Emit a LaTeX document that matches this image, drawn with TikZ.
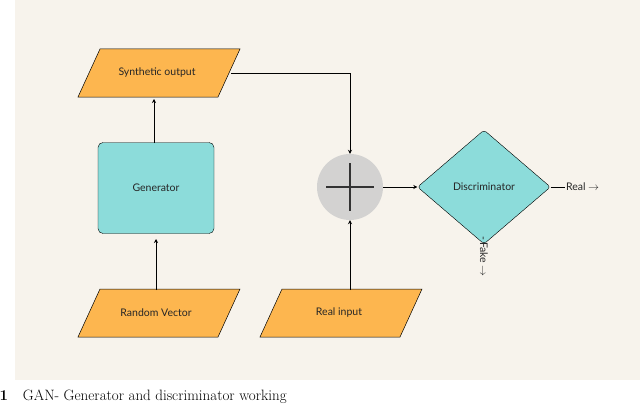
\documentclass[tikz,border=0pt]{standalone}
\usepackage{fontspec}
\newfontfamily\diag{Lato}
\usetikzlibrary{shapes.geometric,arrows.meta}
\definecolor{bg}{HTML}{F7F3EC}
\definecolor{orng}{HTML}{FDB64F}
\definecolor{teal}{HTML}{8CDCDA}
\definecolor{gry}{HTML}{D3D2D1}
\tikzset{
  lbl/.style={font=\diag\fontsize{10.5}{12}\selectfont, text=black!85},
  para/.style={fill=orng, draw=black, line width=0.5pt},
  conn/.style={line width=0.8pt, -{Stealth[length=4pt,width=4pt]}},
}
\begin{document}
\begin{tikzpicture}[x=1pt,y=-1pt]
\useasboundingbox (0,0) rectangle (640,404);
\fill[bg] (15,0) rectangle (640,380);
\newcommand{\paral}[2]{\filldraw[para] (#1-56,#2-24) -- (#1+84,#2-24) -- (#1+62,#2+24) -- (#1-78,#2+24) -- cycle;}
\paral{156}{73}
\paral{156}{313}
\paral{338}{313}
\node[lbl] (syn) at (157,73) {Synthetic output};
\node[lbl] (rv) at (156,313) {Random Vector};
\node[lbl] (ri) at (339,313) {Real input};
\node[lbl, draw=black, fill=teal, rounded corners=5pt, minimum width=116pt, minimum height=91pt] (gen) at (156,188) {Generator};
\node[circle, fill=gry, minimum size=66pt, inner sep=0] (plus) at (350,187) {};
\draw[line width=2.5pt, black!80] (plus.center) ++(-24,0) -- ++(48,0) (plus.center) ++(0,-24) -- ++(0,48);
\node[lbl, diamond, draw=black, fill=teal, rounded corners=3pt, minimum width=133pt, minimum height=114pt, inner sep=0, aspect=1.17] (dis) at (484,187) {Discriminator};
\coordinate (c1) at (350,73);
\coordinate (g1) at (156,239);
\coordinate (g2) at (154,143);
\coordinate (s1) at (154,99);
\draw[conn] (156,290) -- (g1);
\draw[conn] (g2) -- (s1);
\draw[conn] (231,73) -- (c1) -- (plus.north);
\draw[conn] (350,290) -- (plus.south);
\draw[conn] (plus.east) -- (dis.west);
\draw[line width=0.6pt] (dis.east) -- +(14,0) node[lbl, anchor=west, inner sep=1pt] (real) {Real $\rightarrow$};
\node[lbl, rotate=-90, anchor=west, inner sep=1pt] (fake) at ([yshift=9pt]dis.south) {-\,Fake $\rightarrow$};
\node[anchor=west, font=\fontsize{15}{18}\selectfont] (cap) at (-4,397) {\textbf{1}\quad GAN- Generator and discriminator working};
\end{tikzpicture}
\end{document}
